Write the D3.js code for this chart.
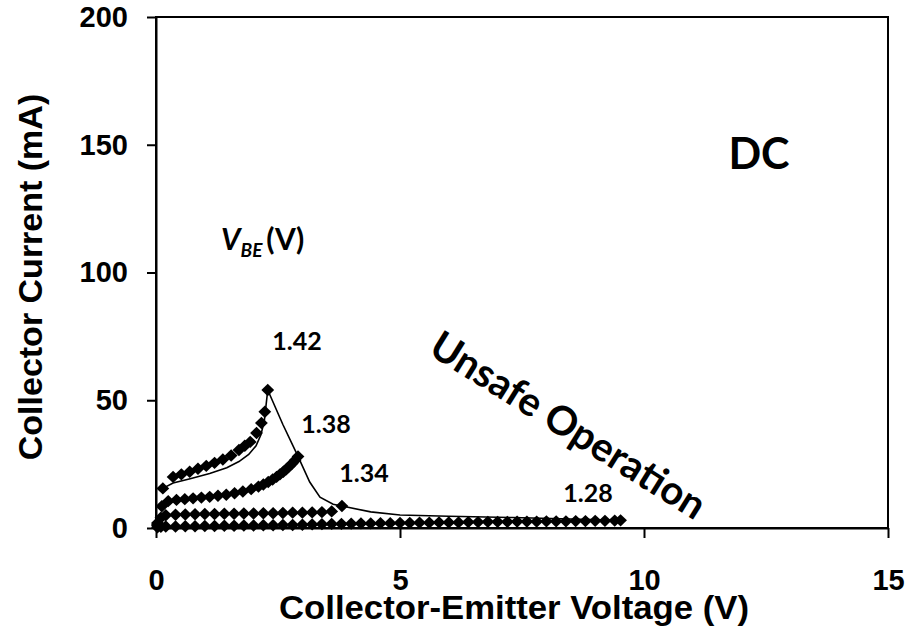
<!DOCTYPE html>
<html>
<head>
<meta charset="utf-8">
<script src="https://cdn.jsdelivr.net/npm/d3@7"></script>
<style>
  html, body { margin: 0; padding: 0; background: #fff; }
  svg { display: block; }
  .tick text { font-family: "Liberation Sans", Arial, sans-serif; font-weight: bold; font-size: 29px; fill: #000; }
  .axis-title { font-family: "Liberation Sans", Arial, sans-serif; font-weight: bold; font-size: 34px; fill: #000; }
  .note { font-family: Lato, "Open Sans", sans-serif; font-weight: bold; fill: #000; }
</style>
</head>
<body>
<svg id="chart" width="911" height="628"></svg>
<script>
// Axis ticks
const xTicks = [0, 5, 10, 15];
const yTicks = [0, 50, 100, 150, 200];

// Measured I-V curves for each base-emitter voltage (V in volts, I in mA)
const vbeLabels = ["1.42", "1.38", "1.34", "1.28"];

const v142 = [0.03, 0.14, 0.35, 0.52, 0.69, 0.86, 1.03, 1.2, 1.37, 1.54, 1.7, 1.82, 1.93, 2.06, 2.16, 2.23, 2.29];
const i142 = [2.0, 15.5, 20.0, 21.0, 22.0, 23.2, 24.3, 25.5, 26.8, 28.4, 30.5, 32.2, 33.7, 37.2, 41.1, 45.5, 54.0];

const v138 = [0.03, 0.12, 0.25, 0.42, 0.59, 0.76, 0.93, 1.1, 1.27, 1.44, 1.61, 1.78, 1.95, 2.1, 2.2, 2.3, 2.39, 2.47, 2.54, 2.61, 2.67, 2.73, 2.79, 2.85, 2.91];
const i138 = [1.5, 8.5, 10.5, 11.0, 11.3, 11.6, 11.9, 12.2, 12.6, 13.0, 13.6, 14.3, 15.2, 16.2, 17.0, 18.0, 19.0, 20.0, 21.0, 22.0, 23.0, 24.1, 25.2, 26.5, 28.0];

const v134 = [0.03, 0.1, 0.2, 0.4, 0.6, 0.8, 1.0, 1.2, 1.4, 1.6, 1.8, 2.0, 2.2, 2.4, 2.6, 2.8, 3.0, 3.2, 3.4, 3.6, 3.81];
const i134 = [1.0, 4.0, 5.0, 5.2, 5.3, 5.4, 5.5, 5.5, 5.6, 5.6, 5.7, 5.7, 5.8, 5.8, 5.9, 6.0, 6.0, 6.1, 6.2, 6.5, 8.6];

const v128 = [0.03, 0.1, 0.2, 0.4, 0.6, 0.8, 1.0, 1.2, 1.4, 1.6, 1.8, 2.0, 2.2, 2.4, 2.6, 2.8, 3.0, 3.2, 3.4, 3.6, 3.8,
              4.0, 4.2, 4.4, 4.6, 4.8, 5.0, 5.2, 5.4, 5.6, 5.8, 6.0, 6.2, 6.4, 6.6, 6.8, 7.0, 7.2, 7.4, 7.6, 7.8,
              8.0, 8.2, 8.4, 8.6, 8.8, 9.0, 9.2, 9.4, 9.52];
const i128 = [0.3, 0.5, 0.6, 0.6, 0.7, 0.7, 0.8, 0.8, 0.9, 0.9, 1.0, 1.0, 1.1, 1.1, 1.2, 1.2, 1.3, 1.4, 1.5, 1.6, 1.6,
              1.7, 1.8, 1.8, 1.9, 1.9, 2.0, 2.0, 2.1, 2.1, 2.2, 2.2, 2.2, 2.3, 2.3, 2.4, 2.4, 2.4, 2.5, 2.5, 2.5,
              2.6, 2.6, 2.6, 2.7, 2.7, 2.8, 2.8, 2.9, 3.0];

// Safe-operating boundary traced through the end points of each curve
const boundV = [0.14, 0.35, 0.7, 1.1, 1.45, 1.7, 1.9, 2.05, 2.15, 2.22, 2.29, 2.6, 2.91, 3.15, 3.36, 3.63, 3.81, 4.4, 5.0, 6.0, 7.3, 8.5, 9.52];
const boundI = [15.5, 17.6, 19.3, 21.3, 23.6, 26.0, 28.8, 32.2, 36.5, 42.0, 54.0, 40.5, 28.0, 18.0, 12.1, 9.3, 8.6, 6.3, 5.1, 4.6, 4.1, 3.5, 3.0];

const series = [
  { label: vbeLabels[0], v: v142, i: i142 },
  { label: vbeLabels[1], v: v138, i: i138 },
  { label: vbeLabels[2], v: v134, i: i134 },
  { label: vbeLabels[3], v: v128, i: i128 }
];

const svg = d3.select("#chart");
const margin = { top: 17, right: 23, bottom: 100, left: 156 };
const W = 911, H = 628;

const x = d3.scaleLinear().domain([0, 15]).range([margin.left, W - margin.right]);
const y = d3.scaleLinear().domain([0, 200]).range([H - margin.bottom, margin.top]);

// Plot frame
svg.append("rect")
  .attr("x", x(0)).attr("y", y(200))
  .attr("width", x(15) - x(0)).attr("height", y(0) - y(200))
  .attr("fill", "none").attr("stroke", "#000").attr("stroke-width", 2);

// Axes
const yAxis = svg.append("g")
  .attr("transform", `translate(${x(0)},0)`)
  .call(d3.axisLeft(y).tickValues(yTicks).tickSize(9).tickSizeOuter(0).tickPadding(19));
const xAxis = svg.append("g")
  .attr("transform", `translate(0,${y(0)})`)
  .call(d3.axisBottom(x).tickValues(xTicks).tickSize(10).tickSizeOuter(0).tickPadding(31));
[xAxis, yAxis].forEach(g => {
  g.select(".domain").attr("stroke", "#000").attr("stroke-width", 2);
  g.selectAll(".tick line").attr("stroke", "#000").attr("stroke-width", 2);
});

// Axis titles
svg.append("text").attr("class", "axis-title")
  .attr("x", 514).attr("y", 619).attr("text-anchor", "middle")
  .attr("textLength", 470).attr("lengthAdjust", "spacingAndGlyphs")
  .text("Collector-Emitter Voltage (V)");
svg.append("text").attr("class", "axis-title")
  .attr("transform", "translate(42,277) rotate(-90)").attr("text-anchor", "middle")
  .text("Collector Current (mA)");

// Boundary line
const boundary = boundV.map((v, k) => [v, boundI[k]]);
svg.append("path")
  .datum(boundary)
  .attr("fill", "none").attr("stroke", "#000").attr("stroke-width", 1.6)
  .attr("d", d3.line().x(d => x(d[0])).y(d => y(d[1])).curve(d3.curveLinear));

// Diamond markers
const diamond = "M0,-6.2L6.4,0L0,6.2L-6.4,0Z";
series.forEach(s => {
  svg.append("g").selectAll("path")
    .data(s.v.map((v, k) => [v, s.i[k]]))
    .join("path")
    .attr("d", diamond)
    .attr("transform", d => `translate(${x(d[0])},${y(d[1])})`)
    .attr("fill", "#000");
});

// Curve labels
const labelPos = [
  { t: vbeLabels[0], x: 297, y: 350 },
  { t: vbeLabels[1], x: 326, y: 433 },
  { t: vbeLabels[2], x: 364, y: 482 },
  { t: vbeLabels[3], x: 588, y: 502 }
];
svg.append("g").selectAll("text")
  .data(labelPos).join("text")
  .attr("class", "note")
  .attr("x", d => d.x).attr("y", d => d.y)
  .attr("text-anchor", "middle").attr("font-size", 25)
  .text(d => d.t);

// V_BE (V) heading
const vbe = svg.append("text").attr("class", "note").attr("x", 221).attr("y", 250).attr("font-size", 30);
vbe.append("tspan").attr("font-style", "italic").text("V");
vbe.append("tspan").attr("font-style", "italic").attr("font-size", 19).attr("dy", 7).text("BE");
vbe.append("tspan").attr("dy", -7).attr("dx", 4).text("(V)");

// DC
svg.append("text").attr("class", "note")
  .attr("x", 759).attr("y", 169).attr("text-anchor", "middle").attr("font-size", 43)
  .text("DC");

// Unsafe region note
svg.append("text").attr("class", "note")
  .attr("transform", "translate(561,437) rotate(32)")
  .attr("text-anchor", "middle").attr("font-size", 40)
  .text("Unsafe Operation");
</script>
</body>
</html>
